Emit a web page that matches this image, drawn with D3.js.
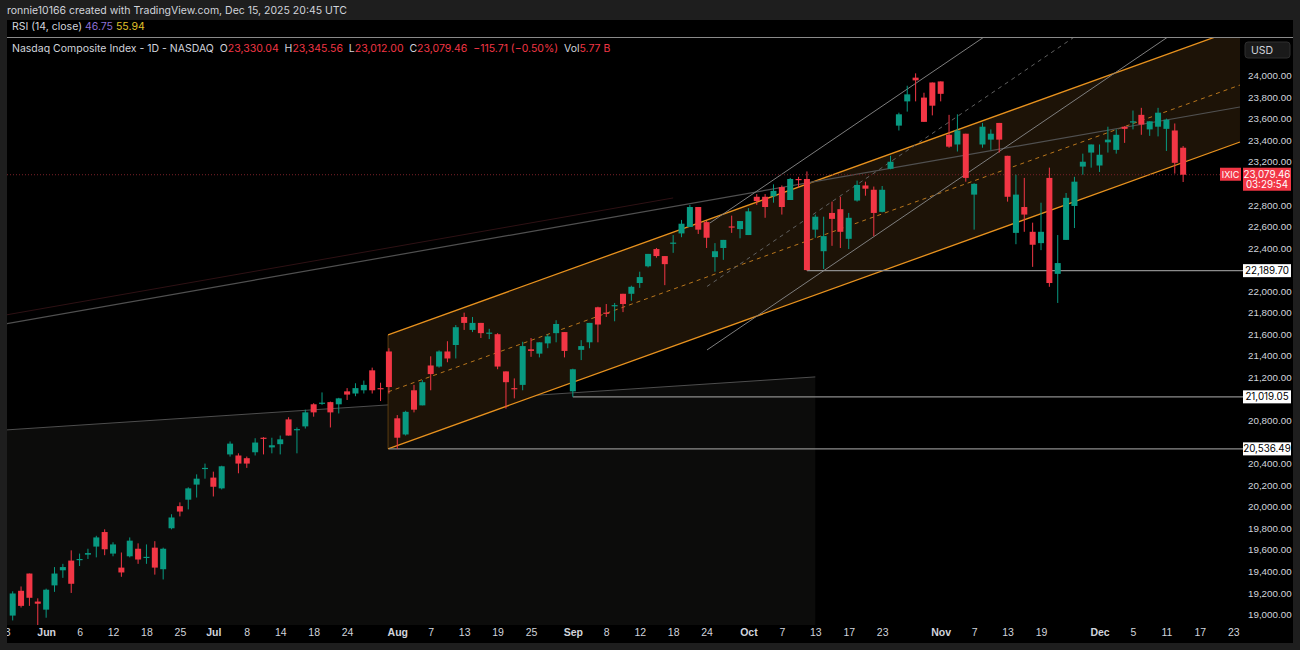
<!DOCTYPE html>
<html><head><meta charset="utf-8">
<script src="https://cdn.jsdelivr.net/npm/d3@7/dist/d3.min.js"></script>
<style>body{margin:0;background:#1e1e1e;overflow:hidden}svg{display:block;font-family:Inter,"Noto Sans",sans-serif}</style>
</head><body><svg id="c" width="1300" height="650"></svg>
<script>
// trading-day index 0 = May 27 2025
const opens=[18990,19220,19380,19120,19045,19270,19410,19500,19505,19555,19630,19765,19565,19435,19540,19610,19525,19620,19420,19800,20005,20065,20205,20350,20270,20170,20485,20475,20450,20505,20640,20550,20580,20810,20710,20745,20950,20955,20970,20950,21070,21050,21080,21265,21100,21440,20820,20670,21080,20940,21310,21300,21440,21500,21760,21640,21705,21605,21600,21255,21100,21130,21460,21420,21515,21610,21620,21070,21455,21525,21850,21800,21860,21975,21975,22075,22230,22390,22325,22440,22535,22595,22780,22640,22315,22400,22600,22575,22520,22875,22875,22880,22965,22845,23040,23040,22570,22370,22725,22760,22485,22840,22980,22940,22735,23135,23535,23760,23980,23795,23935,23945,23450,23360,23460,22895,23360,23405,23560,23255,22540,22780,22550,22445,23050,22160,22475,22790,23155,23285,23165,23380,23310,23525,23565,23635,23500,23525,23505,23490,23330.04];
const highs=[19215,19260,19380,19150,19240,19440,19470,19595,19565,19610,19730,19790,19670,19575,19715,19660,19650,19680,19620,19930,20040,20180,20300,20400,20325,20380,20605,20495,20465,20635,20645,20640,20660,20830,20735,20900,20960,21060,20975,21010,21100,21145,21170,21290,21150,21470,20850,20890,21130,21175,21395,21450,21535,21685,21800,21760,21705,21650,21610,21255,21190,21530,21565,21525,21600,21730,21620,21280,21545,21705,21855,21880,21890,21975,22050,22180,22345,22400,22325,22520,22660,22800,22780,22650,22445,22475,22700,22650,22770,22900,22900,22990,22980,23050,23060,23110,22710,22690,22830,22875,22725,23025,23015,22970,22975,23255,23655,23905,24020,23840,23935,23945,23635,23640,23460,23000,23560,23500,23560,23255,23080,23050,22635,22820,23145,22520,22910,23060,23275,23360,23360,23525,23500,23530,23675,23700,23575,23700,23600,23555,23345.56];
const lows=[18945,19065,19080,18900,18970,19210,19340,19200,19450,19515,19530,19550,19540,19350,19530,19470,19470,19370,19325,19790,19910,19975,20085,20260,20095,20160,20465,20310,20360,20475,20485,20495,20485,20660,20495,20725,20835,20945,20735,20865,20990,21025,21050,21050,20980,21050,20536.49,20660,20875,20940,21080,21290,21340,21375,21640,21620,21565,21555,21275,20910,21005,21080,21390,21385,21470,21525,21385,21019.05,21360,21470,21525,21760,21720,21805,21910,22030,22220,22310,22055,22355,22500,22595,22530,22400,22180,22290,22540,22490,22520,22800,22680,22820,22710,22845,22960,22189.70,22495,22205,22420,22400,22390,22830,22885,22510,22730,23130,23490,23665,23760,23570,23630,23760,23330,23295,23015,22570,23330,23310,23285,22830,22435,22550,22225,22380,22040,21890,22475,22585,23080,23145,23105,23285,23275,23375,23500,23450,23440,23435,23300,23090,23012.00];
const closes=[19195,19080,19155,19100,19230,19380,19440,19285,19515,19570,19715,19605,19650,19390,19685,19510,19535,19435,19610,19900,19955,20170,20260,20360,20185,20375,20585,20400,20400,20595,20630,20570,20625,20660,20720,20875,20875,20965,20875,21005,21040,21100,21130,21080,21090,21110,20640,20880,20900,21155,21230,21440,21375,21665,21705,21705,21610,21615,21300,21155,21090,21490,21445,21525,21580,21695,21445,21275,21490,21705,21690,21790,21870,21880,22040,22130,22345,22325,22250,22450,22625,22780,22570,22495,22370,22475,22590,22650,22740,22835,22780,22930,22780,23040,23030,22195,22690,22510,22670,22550,22680,22985,22950,22725,22940,23200,23640,23825,23955,23570,23720,23830,23340,23490,23050,22995,23525,23460,23405,22875,22895,22710,22430,22550,22075,22260,22865,23015,23200,23360,23265,23405,23450,23505,23575,23545,23575,23655,23590,23190,23079.46];
const priceTicks=[19000,19200,19400,19600,19800,20000,20200,20400,20600,20800,21000,21200,21400,21600,21800,22000,22200,22400,22600,22800,23000,23200,23400,23600,23800,24000];
const dateTickLabels=["23","Jun","6","12","18","25","Jul","8","14","18","24","Aug","7","13","19","25","Sep","8","12","18","24","Oct","7","13","17","23","Nov","7","13","19","Dec","5","11","17","23"];
const dateTickIdx=[-1,4,8,12,16,20,24,28,32,36,40,46,50,54,58,62,67,71,75,79,83,88,92,96,100,104,111,115,119,123,130,134,138,142,146];
const monthLabels=["Jun","Jul","Aug","Sep","Oct","Nov","Dec"];
// drawings in [index, price]
const channelUpper=[[44.9,21594],[146.8,24440]];
const channelLower=[[44.9,20536.49],[146.8,23383]];
const gchLower=[[83.05,21454],[146.8,24812]];
const gchUpper=[[83.4,22632],[147.2,25990]];
const trendB=[[-1.6,21686],[146.8,23708]];
const trendRed=[[-0.8,21779],[79,22864]];
const boxTop=[[-0.8,20712],[96,21204]];
const hLevels=[{p:22189.70,from:95},{p:21019.05,from:67},{p:20536.49,from:45}];
const lastPrice=23079.46;

const svg=d3.select("#c");
const W=1300,H=650,PL=7,PR=1243,PT=38,PB=625;
const x=d3.scaleLinear().domain([0,146]).range([12.7,1233.3]);
const y=d3.scaleLinear().domain([19000,24000]).range([614.5,75.5]);
const green="#089981",red="#f23645",orange="#e8921e";

svg.append("rect").attr("width",W).attr("height",H).attr("fill","#1e1e1e");
svg.append("rect").attr("x",PL).attr("y",20).attr("width",1293-PL).attr("height",643-20).attr("fill","#000");
svg.append("line").attr("x1",PL).attr("x2",1293).attr("y1",37.5).attr("y2",37.5).attr("stroke","#8a8a8a").attr("stroke-width",1);

svg.append("defs").append("clipPath").attr("id","pane").append("rect").attr("x",PL).attr("y",PT).attr("width",PR-PL).attr("height",PB-PT);
const g=svg.append("g").attr("clip-path","url(#pane)");

g.append("path").attr("d",`M${x(boxTop[0][0])},${y(boxTop[0][1])}L${x(boxTop[1][0])},${y(boxTop[1][1])}L${x(boxTop[1][0])},${PB}L${x(boxTop[0][0])},${PB}Z`).attr("fill","#0c0c0b");
g.append("line").attr("x1",x(boxTop[0][0])).attr("y1",y(boxTop[0][1])).attr("x2",x(boxTop[1][0])).attr("y2",y(boxTop[1][1])).attr("stroke","#4e4e4e").attr("stroke-width",1);
const cu=channelUpper,cl=channelLower;
g.append("path").attr("d",`M${x(cu[0][0])},${y(cu[0][1])}L${x(cu[1][0])},${y(cu[1][1])}L${x(cl[1][0])},${y(cl[1][1])}L${x(cl[0][0])},${y(cl[0][1])}Z`).attr("fill","#1d1307");
g.append("line").attr("x1",x(cu[0][0])).attr("y1",y(cu[0][1])).attr("x2",x(cl[0][0])).attr("y2",y(cl[0][1])).attr("stroke","#5a3d12").attr("stroke-width",1);
function seg(p,col,w,dash){g.append("line").attr("x1",x(p[0][0])).attr("y1",y(p[0][1])).attr("x2",x(p[1][0])).attr("y2",y(p[1][1])).attr("stroke",col).attr("stroke-width",w).attr("stroke-dasharray",dash||null);}
seg(cu,orange,1.3);seg(cl,orange,1.3);
seg([[cu[0][0],(cu[0][1]+cl[0][1])/2],[cu[1][0],(cu[1][1]+cl[1][1])/2]],"#b8761c",1,"4,4");
seg(trendRed,"#2e1114",1);
seg(trendB,"#505050",1.2);
seg(gchLower,"#7e7e7e",1);seg(gchUpper,"#7e7e7e",1);
seg([[gchLower[0][0],(gchLower[0][1]+gchUpper[0][1])/2],[gchLower[1][0],(gchLower[1][1]+gchUpper[1][1])/2]],"#606060",1,"4,4");
hLevels.forEach(h=>g.append("line").attr("x1",x(h.from)).attr("x2",PR).attr("y1",y(h.p)).attr("y2",y(h.p)).attr("stroke","#8c8c8c").attr("stroke-width",1.2));
g.append("line").attr("x1",PL).attr("x2",PR).attr("y1",y(lastPrice)).attr("y2",y(lastPrice)).attr("stroke","#7a2028").attr("stroke-dasharray","1,2");

const bars=g.append("g");
opens.forEach((o,i)=>{
  const c=closes[i],col=c>=o?green:red,cx=x(i);
  bars.append("line").attr("x1",cx).attr("x2",cx).attr("y1",y(highs[i])).attr("y2",y(lows[i])).attr("stroke",col).attr("stroke-width",1);
  const t=y(Math.max(o,c)),b=y(Math.min(o,c));
  bars.append("rect").attr("x",cx-3).attr("width",6).attr("y",t).attr("height",Math.max(1.2,b-t)).attr("fill",col);
});

const covered=hLevels.map(h=>h.p).concat([lastPrice]);
const shownTicks=priceTicks.filter(t=>covered.every(p=>Math.abs(y(t)-y(p))>12));
const ya=svg.append("g").attr("transform",`translate(${PR},0)`).call(d3.axisRight(y).tickValues(shownTicks).tickSize(0).tickPadding(5).tickFormat(d3.format(",.2f")));
ya.select(".domain").remove();
ya.selectAll("text").attr("fill","#d1d4dc").attr("font-size",9.8);
const xa=svg.append("g").attr("transform",`translate(0,${PB})`).call(d3.axisBottom(x).tickValues(dateTickIdx).tickSize(0).tickPadding(4).tickFormat((d,i)=>dateTickLabels[i]));
xa.select(".domain").remove();
xa.selectAll("text").attr("fill","#d1d4dc").attr("font-size",10.5).attr("font-weight",(d,i)=>monthLabels.includes(dateTickLabels[i])?"700":"400");
svg.append("rect").attr("x",0).attr("y",20).attr("width",PL).attr("height",630).attr("fill","#1e1e1e");
svg.append("rect").attr("x",1293).attr("y",0).attr("width",7).attr("height",650).attr("fill","#1e1e1e");
svg.append("rect").attr("x",0).attr("y",643).attr("width",1300).attr("height",7).attr("fill","#1e1e1e");

hLevels.forEach(h=>{
  svg.append("rect").attr("x",1243).attr("y",y(h.p)-6.5).attr("width",48).attr("height",13).attr("fill","#fff");
  svg.append("text").attr("x",1267).attr("y",y(h.p)+3.5).attr("text-anchor","middle").attr("font-size",9.8).attr("fill","#000").text(d3.format(",.2f")(h.p));
});
const ly=y(lastPrice);
svg.append("rect").attr("x",1220).attr("y",ly-7).attr("width",21).attr("height",13).attr("fill",red);
svg.append("text").attr("x",1230.5).attr("y",ly+3.5).attr("text-anchor","middle").attr("font-size",9).attr("fill","#fff").text("IXIC");
svg.append("rect").attr("x",1243).attr("y",ly-7).attr("width",48).attr("height",23).attr("fill",red);
svg.append("text").attr("x",1267).attr("y",ly+3.5).attr("text-anchor","middle").attr("font-size",9.8).attr("fill","#fff").text(d3.format(",.2f")(lastPrice));
svg.append("text").attr("x",1267).attr("y",ly+13.5).attr("text-anchor","middle").attr("font-size",9.8).attr("fill","#fff").text("03:29:54");
svg.append("rect").attr("x",1245).attr("y",42).attr("width",45).attr("height",16).attr("rx",3).attr("fill","#1a1a1a").attr("stroke","#2e2e2e");
svg.append("text").attr("x",1251).attr("y",53.5).attr("font-size",10.5).attr("fill","#d1d4dc").text("USD");

svg.append("text").attr("x",7).attr("y",13.5).attr("font-size",10.5).attr("fill","#d1d4dc").text("ronnie10166 created with TradingView.com, Dec 15, 2025 20:45 UTC");
const r=svg.append("text").attr("x",12).attr("y",30).attr("font-size",10.5).attr("fill","#d1d4dc");
r.append("tspan").text("RSI (14, close)  ");
r.append("tspan").attr("fill","#8e6fd6").text("46.75  ");
r.append("tspan").attr("fill","#e0c22a").text("55.94");
const l=svg.append("text").attr("x",12).attr("y",52).attr("font-size",10.5).attr("fill","#d1d4dc").attr("xml:space","preserve");
const parts=[["Nasdaq Composite Index - 1D - NASDAQ  ","#d1d4dc"],["O","#d1d4dc"],["23,330.04  ",red],["H","#d1d4dc"],["23,345.56  ",red],["L","#d1d4dc"],["23,012.00  ",red],["C","#d1d4dc"],["23,079.46  ",red],["−115.71 (−0.50%)  ",red],["Vol","#d1d4dc"],["5.77 B",red]];
parts.forEach(p=>l.append("tspan").attr("fill",p[1]).text(p[0]));
</script></body></html>
